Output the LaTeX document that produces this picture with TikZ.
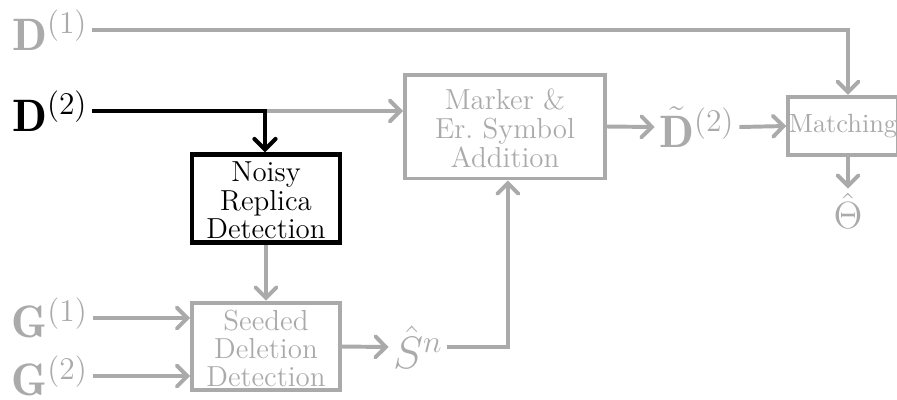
\documentclass[tikz,border=0pt]{standalone}
\usepackage{fontspec}
\usetikzlibrary{arrows.meta}
\definecolor{fade}{RGB}{170,170,170}
% centred stack of lines for a block, drawn slightly low in its frame
\newcommand{\blocklines}[1]{\raisebox{-2.2pt}[\height][\depth]{\begin{tabular}{@{}c@{}}#1\end{tabular}}}
\begin{document}
\begin{tikzpicture}[x=0.38pt,y=-0.38pt,
  tip/.style={-{Straight Barb[length=4pt,width=8pt,line cap=round]}},
  flow/.style={draw=fade,line width=1.5pt,tip},
  active/.style={draw=black,line width=1.6pt,tip},
  block/.style={draw=fade,line width=1.5pt,text=fade,inner sep=0pt,
    font=\fontsize{11}{10.6}\selectfont},
  label/.style={text=fade,inner sep=1.5pt,font=\LARGE}]
\useasboundingbox (0,0) rectangle (897,399);

% processing blocks
\node[block,draw=black,text=black,line width=1.6pt,minimum width=56.2pt,minimum height=33.4pt] (noisy) at (266,198.5) {\blocklines{Noisy\\Replica\\Detection}};
\node[block,minimum width=76pt,minimum height=39.5pt] (marker) at (505,126.5) {\blocklines{Marker \&\\Er.\ Symbol\\Addition}};
\node[block,minimum width=56.2pt,minimum height=33.4pt] (seeded) at (266,346.5) {\blocklines{Seeded\\Deletion\\Detection}};
\node[block,font=\fontsize{10}{10}\selectfont,minimum width=41.6pt,minimum height=22.2pt] (match) at (843,126) {Matching};

% signals
\node[label] (d1) at (50,30) {$\mathbf{D}^{(1)}$};
\node[label,text=black] (d2) at (50,111) {$\mathbf{D}^{(2)}$};
\node[label] (dt) at (697,127) {$\tilde{\mathbf{D}}^{(2)}$};
\node[label,font=\Large] (theta) at (848,211) {$\hat{\Theta}$};
\node[label] (g1) at (50,318) {$\mathbf{G}^{(1)}$};
\node[label] (g2) at (50,376) {$\mathbf{G}^{(2)}$};
\node[label] (sn) at (418,347) {$\hat{S}^{n}$};
\coordinate (col) at (848,0);
\coordinate (split) at (265,111);

% connectors
\draw[flow] (d1.east) -- (d1.east -| col) -- (match.north -| col);
\draw[flow] (split) -- (marker.west |- split);
\draw[active] (d2.east) -- (split) -- (split |- noisy.north);
\draw[flow] (marker.east) -- (dt.west);
\draw[flow] (dt.east) -- (match.west);
\draw[flow] (match.south -| col) -- (theta.north);
\draw[flow] (noisy.south) -- (seeded.north);
\draw[flow] (g1.east) -- (seeded.west |- g1.east);
\draw[flow] (g2.east) -- (seeded.west |- g2.east);
\draw[flow] (seeded.east) -- (sn.west);
\draw[flow] (sn.east) -| ([xshift=1.1pt]marker.south);
\end{tikzpicture}
\end{document}
